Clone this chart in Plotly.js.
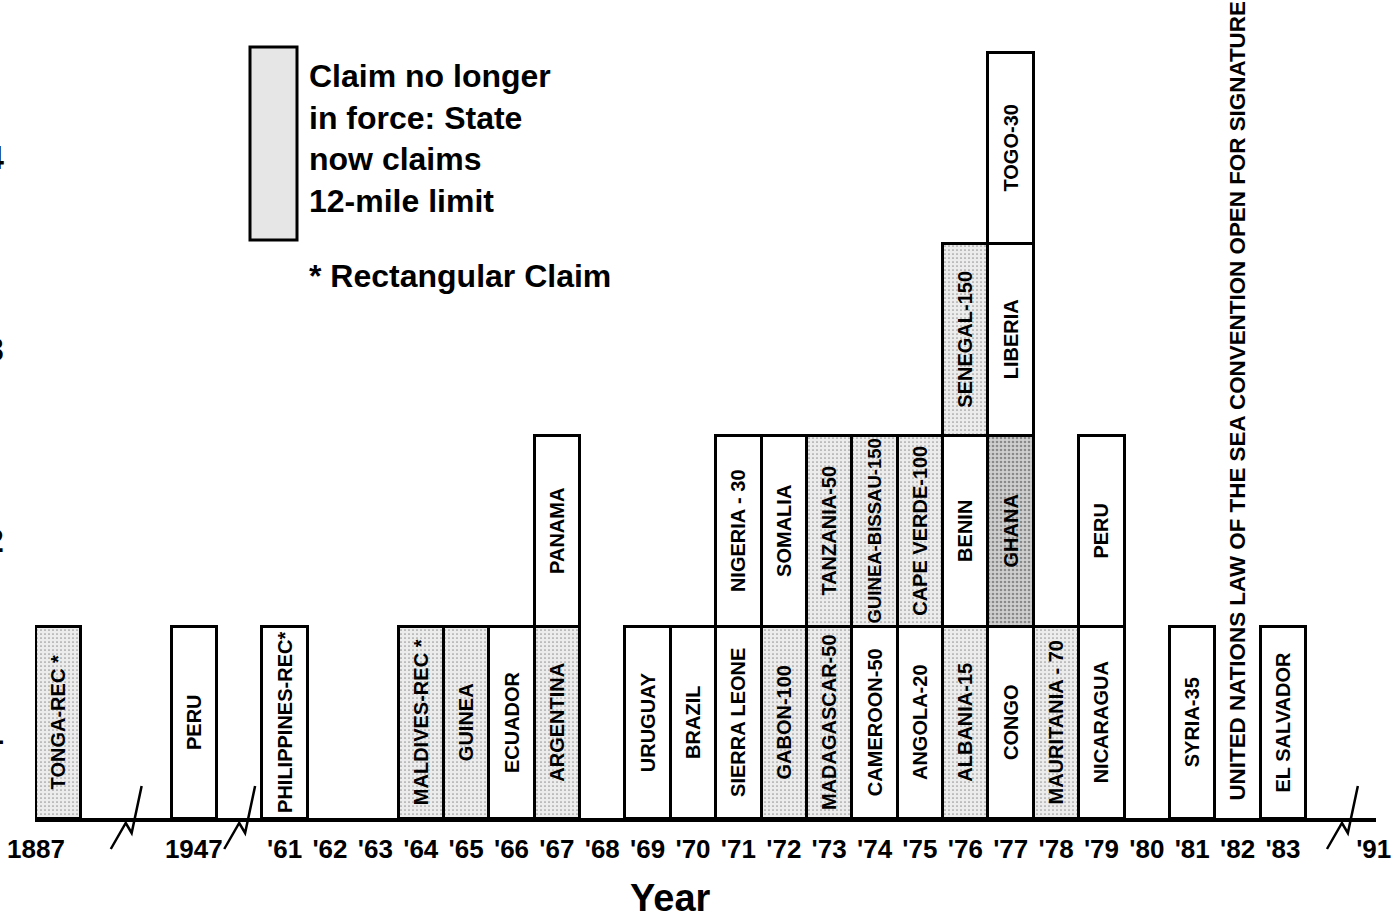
<!DOCTYPE html>
<html><head><meta charset="utf-8">
<script src="https://cdn.plot.ly/plotly-3.0.1.min.js"></script>
<style>html,body{margin:0;padding:0;background:#fff;overflow:hidden}#chart{width:1397px;height:916px}</style>
</head><body><div id="chart"></div><script>
// x categories in order (gap placeholders stand for the broken stretches of the time axis)
const xCategories = ["1887","gap1","gap2","1947","gap3","'61","'62","'63","'64","'65","'66","'67","'68","'69","'70","'71","'72","'73","'74","'75","'76","'77","'78","'79","'80","'81","'82","'83","gap4","'91"];
const tickLabels = ["1887","1947","'61","'62","'63","'64","'65","'66","'67","'68","'69","'70","'71","'72","'73","'74","'75","'76","'77","'78","'79","'80","'81","'82","'83","'91"];

// shade: 0 = claim in force, 1 = claim no longer in force (stippled), 2 = dense stipple
const level1Years = ["1887","1947","'61","'64","'65","'66","'67","'69","'70","'71","'72","'73","'74","'75","'76","'77","'78","'79","'81","'83"];
const level1Names = ["TONGA-REC *","PERU","PHILIPPINES-REC*","MALDIVES-REC *","GUINEA","ECUADOR","ARGENTINA","URUGUAY","BRAZIL","SIERRA LEONE","GABON-100","MADAGASCAR-50","CAMEROON-50","ANGOLA-20","ALBANIA-15","CONGO","MAURITANIA - 70","NICARAGUA","SYRIA-35","EL SALVADOR"];
const level1Shade = [1,0,0,1,1,0,1,0,0,0,1,1,0,0,1,0,1,0,0,0];

const level2Years = ["'67","'71","'72","'73","'74","'75","'76","'77","'79"];
const level2Names = ["PANAMA","NIGERIA - 30","SOMALIA","TANZANIA-50","GUINEA-BISSAU-150","CAPE VERDE-100","BENIN","GHANA","PERU"];
const level2Shade = [0,0,0,1,1,1,0,2,0];

const level3Years = ["'76","'77"];
const level3Names = ["SENEGAL-150","LIBERIA"];
const level3Shade = [1,0];

const level4Years = ["'77"];
const level4Names = ["TOGO-30"];
const level4Shade = [0];

const yTickLabels = ["1","2","3","4"];
const unLabel = "UNITED NATIONS LAW OF THE SEA CONVENTION OPEN FOR SIGNATURE";
const unYear = "'82";

const FONT = "Liberation Sans, Arial, Helvetica, sans-serif";

function level(years, names, shade) {
  return {
    type: 'bar', x: years, y: names.map(() => 1), text: names,
    textposition: 'inside', insidetextanchor: 'middle', textangle: -90,
    textfont: {family: FONT, size: 20, weight: 'bold', color: '#000'},
    width: 1,
    marker: {
      color: shade.map(s => s === 2 ? '#cfcfcf' : (s === 1 ? '#ececec' : '#ffffff')),
      line: {color: '#000', width: 3},
      pattern: {
        shape: shade.map(s => s ? '.' : ''),
        fgcolor: shade.map(s => s === 2 ? '#555' : '#8a8a8a'),
        size: 4,
        solidity: shade.map(s => s === 2 ? 0.35 : 0.15),
        fillmode: 'overlay'
      }
    },
    hoverinfo: 'skip', showlegend: false
  };
}

const traces = [
  level(level1Years, level1Names, level1Shade),
  level(level2Years, level2Names, level2Shade),
  level(level3Years, level3Names, level3Shade),
  level(level4Years, level4Names, level4Shade)
];

const yMax = 4.272;
// axis-break zigzags (category units / paper units)
const breaks = [1.5, 4.0, 28.3];
const shapes = breaks.map(b => {
  const py = v => v / 818; // pixel offset -> paper
  const pts = [[-0.33, -31], [0.0, -5], [0.13, -15], [0.35, 32]];
  return {
    type: 'path', xref: 'x', yref: 'paper',
    path: pts.map((p, i) => (i ? 'L' : 'M') + (b + p[0]) + ',' + py(p[1])).join(' '),
    line: {color: '#000', width: 2.5}
  };
});
// legend swatch
shapes.push({type: 'rect', xref: 'paper', yref: 'paper',
  x0: (250 - 35) / 1341, x1: (297 - 35) / 1341, y0: (818 - 240) / 818, y1: (818 - 47) / 818,
  fillcolor: '#e6e6e6', line: {color: '#000', width: 3}});

// the first tick label sits left of its box in the reference
const tickText = tickLabels.map(t => t === "1887" ? t + '\u00a0'.repeat(6) : t);

const layout = {
  width: 1397, height: 916,
  margin: {l: 35, r: 21, t: 0, b: 98},
  paper_bgcolor: '#fff', plot_bgcolor: '#fff',
  barmode: 'stack', bargap: 0,
  font: {family: FONT, color: '#000'},
  xaxis: {
    type: 'category', categoryorder: 'array', categoryarray: xCategories,
    range: [-0.5, 29.05], tickvals: tickLabels, ticktext: tickText,
    tickfont: {family: FONT, size: 26, weight: 'bold', color: '#000'},
    ticks: '', ticklabelstandoff: 5,
    showline: true, linewidth: 4, linecolor: '#000',
    showgrid: false, zeroline: false, fixedrange: true
  },
  yaxis: {
    range: [0, yMax], tickvals: [0.45, 1.45, 2.45, 3.45], ticktext: yTickLabels,
    tickfont: {family: FONT, size: 34, weight: 'bold', color: '#000'},
    ticks: '', ticklabelstandoff: 30,
    showline: false, showgrid: false, zeroline: false, fixedrange: true
  },
  shapes: shapes,
  annotations: [
    {xref: 'paper', yref: 'paper', x: (307 - 35) / 1341, y: (818 - 56) / 818, xanchor: 'left', yanchor: 'top',
     align: 'left', showarrow: false,
     text: 'Claim no longer<br>in force: State<br>now claims<br>12-mile limit',
     font: {family: FONT, size: 32, weight: 'bold', color: '#000'}},
    {xref: 'paper', yref: 'paper', x: (307 - 35) / 1341, y: (818 - 276) / 818, xanchor: 'left', yanchor: 'middle',
     showarrow: false, text: '* Rectangular Claim', font: {family: FONT, size: 32, weight: 'bold', color: '#000'}},
    {xref: 'x', yref: 'paper', x: unYear, y: (818 - 401) / 818, textangle: -90, showarrow: false,
     text: unLabel, font: {family: FONT, size: 22.4, weight: 'bold', color: '#000'}},
    {xref: 'paper', yref: 'paper', x: (670 - 35) / 1341, y: (818 - 898) / 818, xanchor: 'center', yanchor: 'middle',
     showarrow: false, text: 'Year', font: {family: FONT, size: 38, weight: 'bold', color: '#000'}}
  ]
};

Plotly.newPlot('chart', traces, layout, {displayModeBar: false, staticPlot: true});
</script></body></html>
